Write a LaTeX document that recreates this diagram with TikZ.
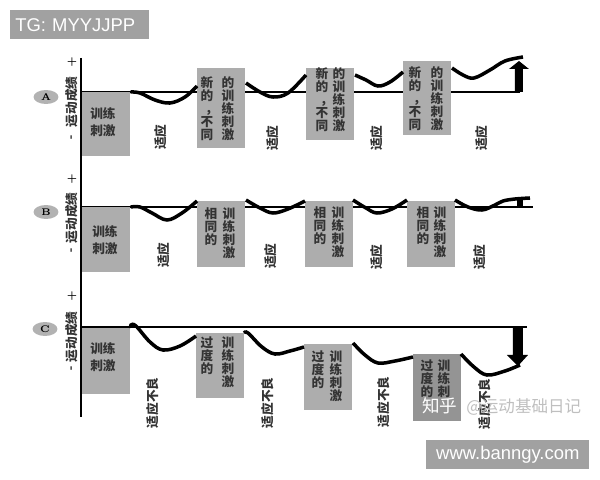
\documentclass[tikz,border=0pt]{standalone}
\usepackage{fontspec}
\usepackage{tikz}
\usetikzlibrary{shapes, positioning}
\newfontfamily\cjk{Noto Sans CJK SC}
\newfontfamily\wmfont{Liberation Sans}

\begin{document}
\begin{tikzpicture}[x=0.02cm, y=-0.02cm,
	stim/.style={fill=black!32, anchor=north west, minimum width=0.96cm, inner sep=0},
	txt/.style={font=\cjk\bfseries\fontsize{7.2}{7.5}\selectfont, text=black!80, align=center, inner sep=0},
	col/.style={txt, anchor=north},
	adap/.style={txt, rotate=90},
	perf/.style={line width=2pt, smooth, tension=0.6},
	zero/.style={line width=0.9pt},
	panel/.style={ellipse, fill=black!30, inner sep=0, minimum width=0.5cm, minimum height=0.28cm,
		font=\fontsize{5.5}{6}\selectfont\bfseries},
	sign/.style={font=\fontsize{5.5}{6}\selectfont\bfseries, inner sep=0},
	wmbox/.style={fill=black!37, text=white, font=\wmfont\fontsize{10.5}{12}\selectfont,
		minimum height=0.58cm, inner ysep=0}]
	\useasboundingbox (0,0) rectangle (600,480);
	
	% axis
	\coordinate (top) at (81,58);
	\coordinate (bot) at (81,417);
	\draw [line width=1.1pt] (top) -- (bot);
	
	% A
	\begin{scope}[shift={(0,92)}]
		\draw [zero] (81,0) -- (520,0);
		\node[stim, minimum height=1.28cm] (a1) at (82,0) {};
		\node[stim, minimum height=1.6cm] (a2) at (197,-24) {};
		\node[stim, minimum height=1.44cm] (a3) at (306,-24) {};
		\node[stim, minimum height=1.48cm] (a4) at (403,-31) {};
		
		\node[txt] (a1t) at (103,30) {训练\\[2pt]刺激};
		\node[col] (a2l) at (207,-16) {新\\的\\\kern5pt，\\不\\同};
		\node[col] (a2r) at (228,-16) {的\\训\\练\\刺\\激};
		\node[col] (a3l) at (322,-25) {新\\的\\\kern5pt，\\不\\同};
		\node[col] (a3r) at (339,-25) {的\\训\\练\\刺\\激};
		\node[col] (a4l) at (415,-26) {新\\的\\\kern5pt，\\不\\同};
		\node[col] (a4r) at (437,-26) {的\\训\\练\\刺\\激};
		
		\node[adap] (a1a) at (161,45) {适应};
		\node[adap] (a2a) at (273,46) {适应};
		\node[adap] (a3a) at (377,46) {适应};
		\node[adap] (a4a) at (482,46) {适应};
		
		\draw [perf] plot coordinates {(a1.north east) (140,1) (155,8) (170,11) (185,5) (197,-6)};
		\draw [perf] plot coordinates {(246,-9) (260,0) (273,5) (288,1) (306,-17)};
		\draw [perf] plot coordinates {(355,-17) (366,-12) (378,-6) (390,-10) (403,-20)};
		\draw [perf] plot coordinates {(452,-24) (463,-17) (474,-14) (490,-22) (505,-31) (523,-35)};
		
		\fill (515,0) -- (515,-23) -- (509,-23) -- (519,-31) -- (529,-23) -- (523,-23) -- (523,0) -- cycle;
		
		\node[panel] (la) at (46,5) {A};
		\node[sign] (pa) at (72,-30) {+};
		\node[txt, rotate=90] (ya) at (72,10) {运动成绩};
		\node[sign, rotate=90] (ma) at (72,45) {-};
	\end{scope}
	
	% B
	\begin{scope}[shift={(0,207)}]
		\draw [zero] (81,0) -- (533,0);
		\node[stim, minimum height=1.3cm] (b1) at (82,0) {};
		\node[stim, minimum height=1.32cm] (b2) at (197,-6) {};
		\node[stim, minimum height=1.32cm] (b3) at (305,-6) {};
		\node[stim, minimum height=1.32cm] (b4) at (407,-6) {};
		
		\node[txt] (b1t) at (105,33) {训练\\[2pt]刺激};
		\node[col] (b2l) at (211,0) {相\\同\\的};
		\node[col] (b2r) at (229,0) {训\\练\\刺\\激};
		\node[col] (b3l) at (320,-1) {相\\同\\的};
		\node[col] (b3r) at (338,-1) {训\\练\\刺\\激};
		\node[col] (b4l) at (423,-1) {相\\同\\的};
		\node[col] (b4r) at (440,-1) {训\\练\\刺\\激};
		
		\node[adap] (b1a) at (164,48) {适应};
		\node[adap] (b2a) at (271,49) {适应};
		\node[adap] (b3a) at (377,50) {适应};
		\node[adap] (b4a) at (480,50) {适应};
		
		\draw [perf] plot coordinates {(b1.north east) (140,0) (152,6) (167,13) (182,6) (197,-6)};
		\draw [perf] plot coordinates {(246,-7) (260,1) (273,6) (288,2) (305,-6)};
		\draw [perf] plot coordinates {(353,-7) (366,1) (377,6) (392,2) (407,-7)};
		\draw [perf] plot coordinates {(455,-7) (468,0) (482,3) (495,-2) (503,-6) (515,-8) (530,-9)};
		\fill (517,-8) rectangle (523,0);
		
		\node[panel] (lb) at (46,5) {B};
		\node[sign] (pb) at (72,-28) {+};
		\node[txt, rotate=90] (yb) at (72,11) {运动成绩};
		\node[sign, rotate=90] (mb) at (72,43) {-};
	\end{scope}
	
	% C
	\begin{scope}[shift={(0,327)}]
		\draw [zero] (81,0) -- (527,0);
		\node[stim, minimum height=1.32cm] (c1) at (82,1) {};
		\node[stim, minimum height=1.3cm] (c2) at (196,6) {};
		\node[stim, minimum height=1.32cm] (c3) at (304,17) {};
		\node[stim, fill=black!42, minimum height=1.34cm] (c4) at (413,27) {};
		
		\node[txt] (c1t) at (103,30) {训练\\[2pt]刺激};
		\node[col] (c2l) at (207,9) {过\\度\\的};
		\node[col] (c2r) at (228,9) {训\\练\\刺\\激};
		\node[col] (c3l) at (318,23) {过\\度\\的};
		\node[col] (c3r) at (336,23) {训\\练\\刺\\激};
		\node[col] (c4l) at (427,32) {过\\度\\的};
		\node[col] (c4r) at (444,32) {训\\练\\刺};
		
		\node[adap] (c1a) at (153,76) {适应不良};
		\node[adap] (c2a) at (268,76) {适应不良};
		\node[adap] (c3a) at (384,75) {适应不良};
		\node[adap] (c4a) at (485,77) {适应不良};
		
		\draw [perf] plot coordinates {(c1.north east) (131,-2) (136,-1) (150,15) (163,23) (180,19) (196,9)};
		\draw [perf] plot coordinates {(244,6) (248,6) (262,20) (275,27) (290,24) (304,20)};
		\draw [perf] plot coordinates {(353,16) (365,28) (378,36) (395,34) (413,30)};
		\draw [perf] plot coordinates {(461,27) (474,40) (487,48) (505,44) (520,38)};
		
		\fill (513,0) -- (513,28) -- (507,28) -- (518,39) -- (528,28) -- (523,28) -- (523,0) -- cycle;
		
		\node[panel] (lc) at (45,2) {C};
		\node[sign] (pc) at (72,-31) {+};
		\node[txt, rotate=90] (yc) at (72,10) {运动成绩};
		\node[sign, rotate=90] (mc) at (72,41) {-};
	\end{scope}
	
	% watermarks
	\node[wmbox, anchor=north west, text width=2.58cm, inner xsep=0.1cm, align=left] (tg) at (10,10) {TG: MYYJJPP};
	\node[wmbox, anchor=north west, minimum width=3.26cm] (www) at (426,440) {www.banngy.com};
	\node[font=\cjk\fontsize{10}{11}\selectfont, text=white, inner sep=0] (zh) at (440,406) {知乎};
	\node[font=\cjk\fontsize{9.4}{10}\selectfont, text=black!25, inner sep=0, anchor=west] (zh2) at (466,407) {@运动基础日记};
\end{tikzpicture}
\end{document}
